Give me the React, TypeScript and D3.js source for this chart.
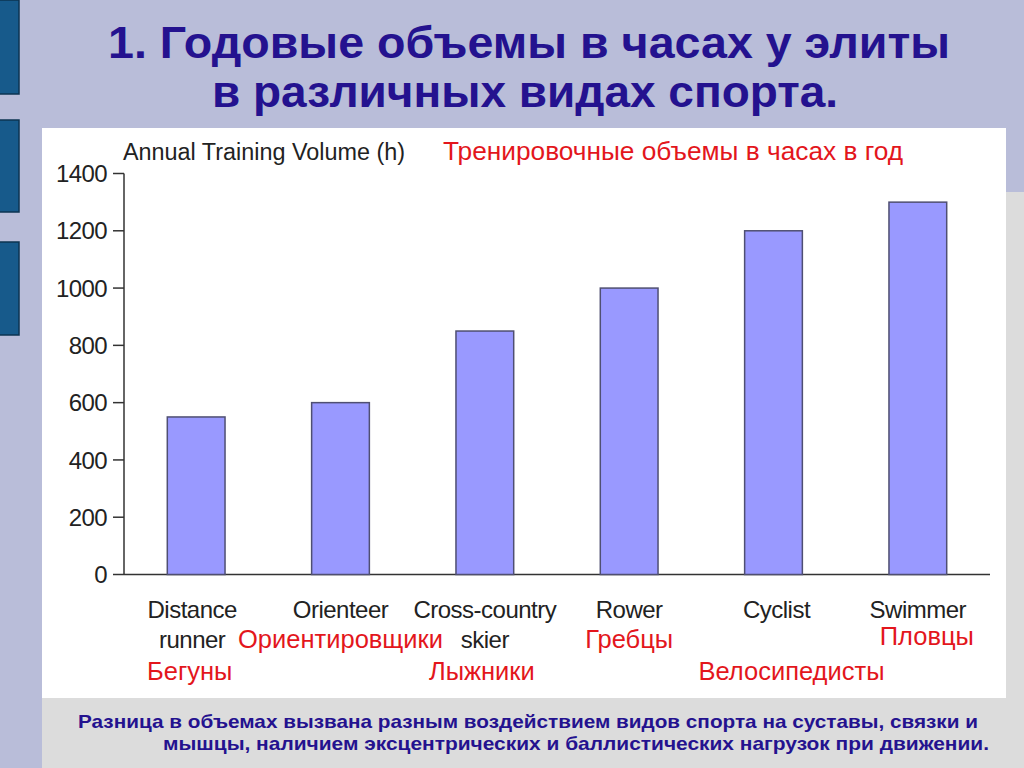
import React from "react";
import * as d3 from "d3";

// chart values
const sports = ["Distance runner", "Orienteer", "Cross-country skier", "Rower", "Cyclist", "Swimmer"];
const englishLines = [["Distance", "runner"], ["Orienteer"], ["Cross-country", "skier"], ["Rower"], ["Cyclist"], ["Swimmer"]];
const russianNames = ["Бегуны", "Ориентировщики", "Лыжники", "Гребцы", "Велосипедисты", "Пловцы"];
const russianRow = [3, 2, 3, 2, 3, 2]; // which text row the red label sits on
const hours = [550, 600, 850, 1000, 1200, 1300];
const yTicks = [0, 200, 400, 600, 800, 1000, 1200, 1400];

const titleLines = ["1. Годовые объемы в часах у элиты", "в различных видах спорта."];
const footerLines = [
  "Разница в объемах вызвана разным воздействием видов спорта на суставы, связки и",
  "мышцы, наличием эксцентрических и баллистических нагрузок при  движении.",
];

const font = "'Liberation Sans', Arial, sans-serif";
const red = "#e3161c";
const navy = "#24128f";

export default function App() {
  const width = 1024;
  const height = 768;
  const margin = { left: 124, right: 990, top: 173.5, bottom: 574.5 };

  const x = d3
    .scaleBand<string>()
    .domain(sports)
    .range([margin.left, margin.right])
    .paddingInner(0.6)
    .paddingOuter(0.3);

  const y = d3.scaleLinear().domain([0, 1400]).range([margin.bottom, margin.top]);

  const rowY = [618, 648, 680];

  return (
    <svg
      width={width}
      height={height}
      style={{ position: "absolute", left: 0, top: 0 }}
      fontFamily={font}
    >
      {/* slide background */}
      <rect x={0} y={0} width={width} height={height} fill="#b9bdd9" />
      <rect x={42} y={192} width={width - 42} height={height - 192} fill="#dcdcdc" />
      {[ [0, 94], [120, 212], [242, 335] ].map(([a, b], i) => (
        <rect key={i} x={-2} y={a} width={21} height={b - a} fill="#175a8b" stroke="#0c3452" strokeWidth={1.5} />
      ))}

      {/* title */}
      <g fill={navy} fontWeight="bold" fontSize={44} fontFamily="Arial, 'Liberation Sans', sans-serif">
        <text x={108} y={58} textLength={842} lengthAdjust="spacingAndGlyphs">{titleLines[0]}</text>
        <text x={212} y={107} textLength={626} lengthAdjust="spacingAndGlyphs">{titleLines[1]}</text>
      </g>

      {/* white chart panel */}
      <rect x={42} y={128} width={964} height={570} fill="#ffffff" />

      <text x={123} y={160} fontSize={23} fill="#222" textLength={282} lengthAdjust="spacingAndGlyphs">Annual Training Volume (h)</text>
      <text x={443} y={160} fontSize={26} fill={red} textLength={460} lengthAdjust="spacingAndGlyphs">Тренировочные объемы в часах в год</text>

      {/* y axis */}
      <g stroke="#333" strokeWidth={1.5}>
        <line x1={margin.left} x2={margin.left} y1={y(1400)} y2={y(0)} />
        <line x1={margin.left} x2={margin.right} y1={y(0)} y2={y(0)} />
        {yTicks.map((t) => (
          <line key={t} x1={margin.left - 11} x2={margin.left} y1={y(t)} y2={y(t)} />
        ))}
      </g>
      <g fontSize={24} fill="#222" textAnchor="end">
        {yTicks.map((t) => (
          <text key={t} x={107} y={y(t)} dy="0.36em" letterSpacing={-0.6}>
            {t}
          </text>
        ))}
      </g>

      {/* bars */}
      {sports.map((s, i) => (
        <rect
          key={s}
          x={x(s)}
          y={y(hours[i])}
          width={x.bandwidth()}
          height={y(0) - y(hours[i])}
          fill="#9999ff"
          stroke="#4f4f72"
          strokeWidth={1.5}
        />
      ))}

      {/* category labels */}
      <g textAnchor="middle">
        {sports.map((s, i) => {
          const cx = (x(s) as number) + x.bandwidth() / 2;
          return (
            <g key={s}>
              {englishLines[i].map((line, j) => (
                <text key={j} x={cx - (i === 0 ? 4 : 0) + (i === 4 ? 3 : 0)} y={rowY[j]} fill="#222" fontSize={24} letterSpacing={-0.5}>
                  {line}
                </text>
              ))}
              <text
                x={cx + [-6.5, 0, -3, 0, 18, 9][i]}
                y={rowY[russianRow[i] - 1] - (i === 5 ? 3 : 0)}
                fill={red}
                fontSize={25.5}
              >
                {russianNames[i]}
              </text>
            </g>
          );
        })}
      </g>

      {/* footer */}
      <g fill={navy} fontWeight="bold" fontSize={19} fontFamily="Arial, 'Liberation Sans', sans-serif">
        <text x={78} y={728} textLength={900} lengthAdjust="spacingAndGlyphs">{footerLines[0]}</text>
        <text x={163} y={750} textLength={826} lengthAdjust="spacingAndGlyphs">{footerLines[1]}</text>
      </g>
    </svg>
  );
}
